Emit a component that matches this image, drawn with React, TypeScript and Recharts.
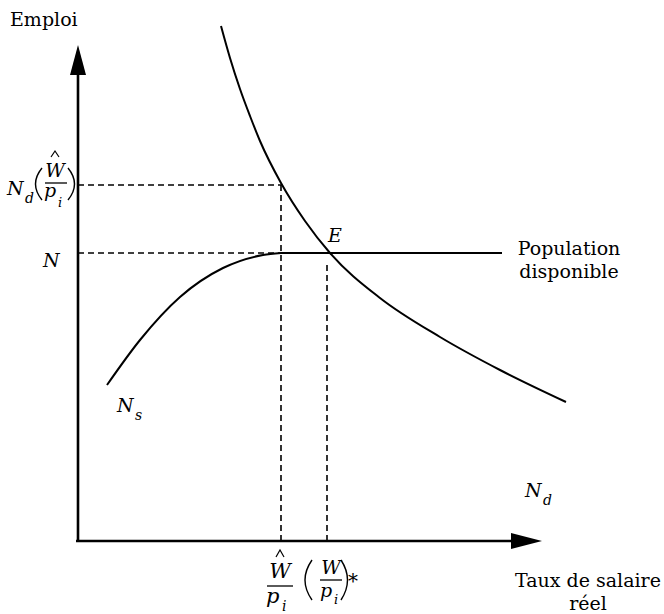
import React from 'react';
import { ComposedChart, Line, XAxis, YAxis, ReferenceLine, ReferenceDot } from 'recharts';

const demandCurve = [
  { w: 143, n: 515 },
  { w: 152, n: 483 },
  { w: 162, n: 452 },
  { w: 172, n: 425 },
  { w: 182, n: 400 },
  { w: 203, n: 358 },
  { w: 227, n: 320 },
  { w: 252, n: 288 },
  { w: 302, n: 243 },
  { w: 362, n: 204 },
  { w: 422, n: 171 },
  { w: 488, n: 139 },
];

const supplyCurve = [
  { w: 29, n: 156 },
  { w: 62, n: 201 },
  { w: 102, n: 244 },
  { w: 145, n: 273 },
  { w: 185, n: 286 },
  { w: 203, n: 288 },
];

const populationLine = [
  { w: 203, n: 288 },
  { w: 424, n: 288 },
];

const wHat = 203; // Ŵ/p_i
const wStar = 249; // (W/p_i)*
const nHat = 356; // N_d(Ŵ/p_i)
const nFull = 288; // N
const wMax = 464; // end of wage axis
const nMax = 496; // end of employment axis

const FONT = 'DejaVu Serif';

const txt = (x: number, y: number, s: string, size: number, italic = false, anchor: any = 'start') => (
  <text x={x} y={y} fontFamily={FONT} fontSize={size} fontStyle={italic ? 'italic' : 'normal'} textAnchor={anchor} fill="#000">
    {s}
  </text>
);

const TopLeftLabel = ({ cx, cy }: any) => (
  <g transform={`translate(${cx},${cy})`}>
    {txt(0, 0, 'N', 19, true)}
    {txt(18, 8, 'd', 14, true)}
    <path d="M35,-27 Q22,-11 35,5" fill="none" stroke="#000" strokeWidth={1.4} />
    <path d="M44,-38 L48,-44 L52,-38" fill="none" stroke="#000" strokeWidth={1.2} />
    {txt(48, -18, 'W', 19, true, 'middle')}
    <line x1={38} y1={-12} x2={60} y2={-12} stroke="#000" strokeWidth={1.3} />
    {txt(37, 2, 'p', 19, true)}
    {txt(51, 12, 'i', 13, true)}
    <path d="M61,-27 Q74,-11 61,5" fill="none" stroke="#000" strokeWidth={1.4} />
  </g>
);

const HatLabel = ({ cx, cy }: any) => (
  <g transform={`translate(${cx},${cy})`}>
    <path d="M-4,-29 L0,-36 L4,-29" fill="none" stroke="#000" strokeWidth={1.2} />
    {txt(0, -8, 'W', 21, true, 'middle')}
    <line x1={-13} y1={0} x2={13} y2={0} stroke="#000" strokeWidth={1.3} />
    {txt(-14, 17, 'p', 21, true)}
    {txt(2, 25, 'i', 14, true)}
  </g>
);

const StarLabel = ({ cx, cy }: any) => (
  <g transform={`translate(${cx},${cy})`}>
    <path d="M-19,-20 Q-33,0 -19,20" fill="none" stroke="#000" strokeWidth={1.4} />
    {txt(0, -6, 'W', 19, true, 'middle')}
    <line x1={-11} y1={0} x2={11} y2={0} stroke="#000" strokeWidth={1.3} />
    {txt(-11, 17, 'p', 19, true)}
    {txt(3, 24, 'i', 13, true)}
    <path d="M10,-20 Q23,0 10,20" fill="none" stroke="#000" strokeWidth={1.4} />
    {txt(17, 8, '*', 20)}
  </g>
);

const SubLabel = (main: string, sub: string) => ({ cx, cy }: any) => (
  <g>
    {txt(cx, cy, main, 19, true)}
    {txt(cx + 18, cy + 8, sub, 14, true)}
  </g>
);

const TextLabel = (lines: string[], size: number, anchor: any, italic = false) => ({ cx, cy }: any) => (
  <g>
    {lines.map((l, i) => (
      <React.Fragment key={i}>{txt(cx, cy + i * 23, l, size, italic, anchor)}</React.Fragment>
    ))}
  </g>
);

const UpArrow = ({ cx, cy }: any) => (
  <polygon points={`${cx},${cy} ${cx - 8},${cy + 30} ${cx + 8},${cy + 30}`} fill="#000" />
);
const RightArrow = ({ cx, cy }: any) => (
  <polygon points={`${cx},${cy} ${cx - 31},${cy - 8} ${cx - 31},${cy + 8}`} fill="#000" />
);

const dash = '6 4';

export default function App() {
  return (
    <div style={{ position: 'absolute', left: 0, top: 0 }}>
      <ComposedChart width={664} height={614} margin={{ top: 0, right: 0, bottom: 0, left: 0 }}>
        <XAxis type="number" dataKey="w" domain={[-78, 586]} hide allowDataOverflow />
        <YAxis type="number" domain={[-73, 541]} hide allowDataOverflow />

        {/* axes */}
        <ReferenceLine segment={[{ x: 0, y: 0 }, { x: 0, y: nMax - 29 }]} stroke="#000" strokeWidth={2.6} ifOverflow="visible" />
        <ReferenceLine segment={[{ x: -2, y: 0 }, { x: wMax - 30, y: 0 }]} stroke="#000" strokeWidth={2.6} ifOverflow="visible" />
        <ReferenceDot x={0} y={nMax} r={0} shape={UpArrow} ifOverflow="visible" />
        <ReferenceDot x={wMax} y={0} r={0} shape={RightArrow} ifOverflow="visible" />

        {/* dashed guides */}
        <ReferenceLine segment={[{ x: 0, y: nHat }, { x: wHat, y: nHat }]} stroke="#000" strokeWidth={1.6} strokeDasharray={dash} ifOverflow="visible" />
        <ReferenceLine segment={[{ x: 0, y: nFull }, { x: wHat, y: nFull }]} stroke="#000" strokeWidth={1.6} strokeDasharray={dash} ifOverflow="visible" />
        <ReferenceLine segment={[{ x: wHat, y: 0 }, { x: wHat, y: nHat }]} stroke="#000" strokeWidth={1.6} strokeDasharray={dash} ifOverflow="visible" />
        <ReferenceLine segment={[{ x: wStar, y: 0 }, { x: wStar, y: nFull - 8 }]} stroke="#000" strokeWidth={1.6} strokeDasharray={dash} ifOverflow="visible" />

        {/* curves */}
        <Line data={demandCurve} dataKey="n" type="monotone" stroke="#000" strokeWidth={2} dot={false} activeDot={false} legendType="none" isAnimationActive={false} />
        <Line data={supplyCurve} dataKey="n" type="monotone" stroke="#000" strokeWidth={2} dot={false} activeDot={false} legendType="none" isAnimationActive={false} />
        <Line data={populationLine} dataKey="n" type="linear" stroke="#000" strokeWidth={2} dot={false} activeDot={false} legendType="none" isAnimationActive={false} />

        {/* labels */}
        <ReferenceDot x={-68} y={515} r={0} shape={TextLabel(['Emploi'], 19, 'start')} ifOverflow="visible" />
        <ReferenceDot x={-71} y={346} r={0} shape={TopLeftLabel} ifOverflow="visible" />
        <ReferenceDot x={-35} y={274} r={0} shape={TextLabel(['N'], 19, 'start', true)} ifOverflow="visible" />
        <ReferenceDot x={250} y={299} r={0} shape={TextLabel(['E'], 19, 'start', true)} ifOverflow="visible" />
        <ReferenceDot x={39} y={129} r={0} shape={SubLabel('N', 's')} ifOverflow="visible" />
        <ReferenceDot x={447} y={44} r={0} shape={SubLabel('N', 'd')} ifOverflow="visible" />
        <ReferenceDot x={491} y={286} r={0} shape={TextLabel(['Population', 'disponible'], 19, 'middle')} ifOverflow="visible" />
        <ReferenceDot x={510} y={-46} r={0} shape={TextLabel(['Taux de salaire', 'réel'], 19, 'middle')} ifOverflow="visible" />
        <ReferenceDot x={wHat - 1} y={-45} r={0} shape={HatLabel} ifOverflow="visible" />
        <ReferenceDot x={wStar + 4} y={-39} r={0} shape={StarLabel} ifOverflow="visible" />
      </ComposedChart>
    </div>
  );
}
